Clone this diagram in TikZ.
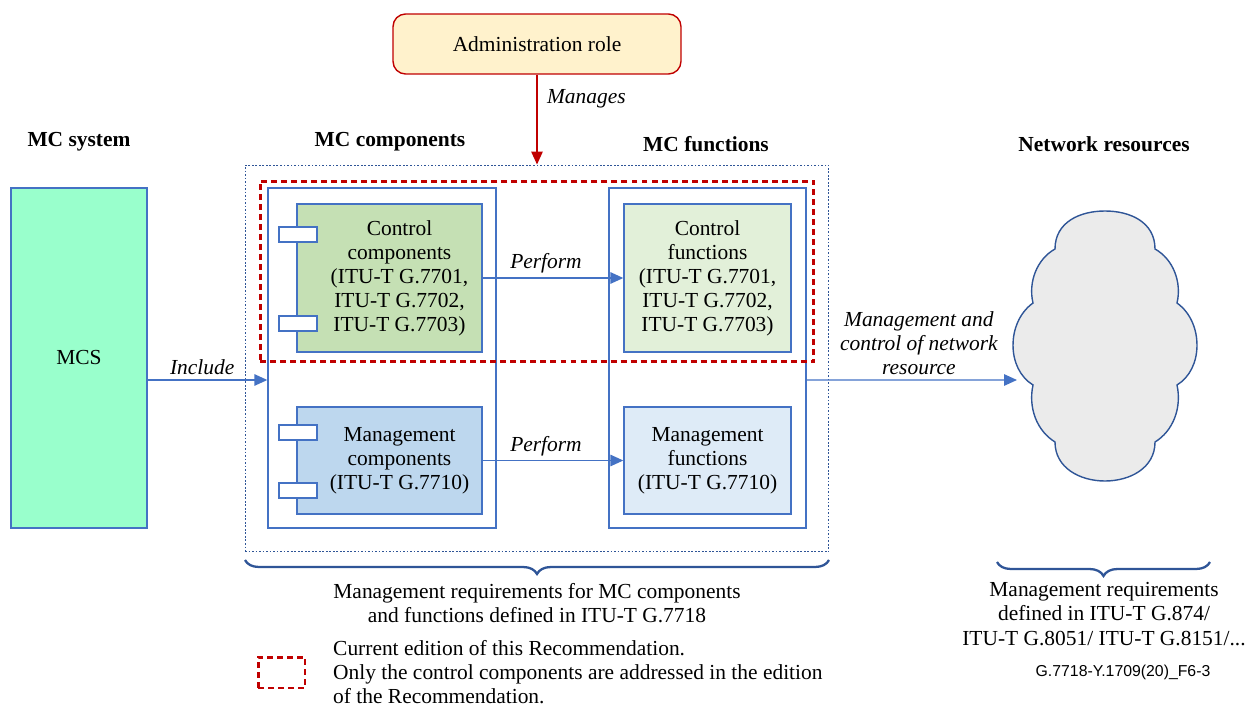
\documentclass[tikz,border=0pt]{standalone}
\usepackage{fontspec}
\setmainfont{Liberation Serif}
\newfontfamily\tagfont{Liberation Sans}
\usepackage{tikz}
\usetikzlibrary{arrows.meta, positioning, calc, decorations.pathreplacing}
\definecolor{lineblue}{HTML}{4472C4}
\definecolor{darkblue}{HTML}{2F5597}
\definecolor{redline}{HTML}{C00000}
\definecolor{adminfill}{HTML}{FFF2CC}
\definecolor{mcsfill}{HTML}{99FFCC}
\definecolor{ctrlcompfill}{HTML}{C5E0B4}
\definecolor{ctrlfuncfill}{HTML}{E2F0D9}
\definecolor{mgmtcompfill}{HTML}{BDD7EE}
\definecolor{mgmtfuncfill}{HTML}{DEEBF7}
\definecolor{cloudfill}{HTML}{EBEBEB}
\newcommand{\figsize}{\fontsize{12.2}{13.7}\selectfont}
\newcommand{\pad}{\hspace*{0.4cm}}
\tikzset{
	block/.style={rectangle, draw=lineblue, line width=0.8pt, align=center, font=\figsize},
	port/.style={rectangle, draw=lineblue, fill=white, line width=0.8pt, minimum width=0.76cm, minimum height=0.3cm, inner sep=0pt},
	edition/.style={rectangle, draw=redline, line width=1.7pt, dash pattern=on 3.4pt off 2.3pt},
	title/.style={font=\figsize\bfseries},
	note/.style={font=\figsize, align=center},
	label/.style={font=\figsize\itshape, align=center},
	flow/.style={draw=lineblue, line width=0.8pt, -{Triangle[length=2.6mm, width=2.3mm]}},
	brace/.style={draw=darkblue, line width=1.3pt, decorate, decoration={brace, amplitude=0.28cm}}
}

\begin{document}
\begin{tikzpicture}[x=0.02cm, y=-0.02cm]
		\useasboundingbox (0,0) rectangle (1247,706);
		
		% Administration role on top
		\node[block, draw=redline, fill=adminfill, rounded corners=2.5mm, minimum width=5.76cm, minimum height=1.2cm] (admin) at (537,44) {Administration role};
		
		% Column titles
		\node[title] (mcstitle) at (79,142) {MC system};
		\node[title] (comptitle) at (390,142) {MC components};
		\node[title] (functitle) at (706,144) {MC functions};
		\node[title] (nettitle) at (1104,144) {Network resources};
		
		% MC system
		\node[block, fill=mcsfill, minimum width=2.72cm, minimum height=6.8cm] (mcs) at (79,358) {MCS};
		
		% Outer dotted box around components and functions
		\node[rectangle, draw=darkblue, line width=0.6pt, dash pattern=on 1pt off 1pt, minimum width=11.68cm, minimum height=7.74cm] (mcbox) at (537,358.5) {};
		
		% Containers for components and functions
		\node[block, minimum width=4.56cm, minimum height=6.8cm] (compbox) at (382,358) {};
		\node[block, minimum width=3.94cm, minimum height=6.8cm] (funcbox) at (707.5,358) {};
		
		% Components
		\node[block, fill=ctrlcompfill, minimum width=3.7cm, minimum height=2.96cm] (ctrlcomp) at (389.5,278) {\pad Control\\\pad components\\\pad (ITU-T G.7701,\\\pad ITU-T G.7702,\\\pad ITU-T G.7703)};
		\node[port] (ctrlport1) at (298,234.5) {};
		\node[port] (ctrlport2) at (298,323.5) {};
		\node[block, fill=mgmtcompfill, minimum width=3.7cm, minimum height=2.14cm] (mgmtcomp) at (389.5,460.5) {\pad Management\\\pad components\\\pad (ITU-T G.7710)};
		\node[port] (mgmtport1) at (298,432.5) {};
		\node[port] (mgmtport2) at (298,490.5) {};
		
		% Functions
		\node[block, fill=ctrlfuncfill, minimum width=3.34cm, minimum height=2.96cm] (ctrlfunc) at (707.5,278) {Control\\functions\\(ITU-T G.7701,\\ITU-T G.7702,\\ITU-T G.7703)};
		\node[block, fill=mgmtfuncfill, minimum width=3.34cm, minimum height=2.14cm] (mgmtfunc) at (707.5,460.5) {Management\\functions\\(ITU-T G.7710)};
		
		% Current edition of the Recommendation
		\node[edition, minimum width=11.08cm, minimum height=3.62cm] (current) at (537,271.5) {};
		
		% Network resources cloud
		\draw[darkblue, line width=0.8pt, fill=cloudfill]
			(1055,249) .. controls (1055,222) and (1080,211) .. (1105,211)
			.. controls (1130,211) and (1155,222) .. (1155,249)
			.. controls (1173,259) and (1182,282) .. (1177,303)
			.. controls (1191,313) and (1197,330) .. (1197,345)
			.. controls (1197,362) and (1190,377) .. (1177,385)
			.. controls (1182,408) and (1173,431) .. (1155,442)
			.. controls (1155,468) and (1130,481) .. (1105,481)
			.. controls (1080,481) and (1055,468) .. (1055,442)
			.. controls (1037,431) and (1028,408) .. (1033,385)
			.. controls (1020,377) and (1013,362) .. (1013,345)
			.. controls (1013,330) and (1019,313) .. (1033,303)
			.. controls (1028,282) and (1037,259) .. (1055,249) -- cycle;
		\coordinate (cloudin) at (1017,380);
		
		% Arrows
		\draw[draw=redline, line width=0.8pt, -{Triangle[length=2.6mm, width=2.3mm]}] (admin) -- node[label, pos=0.27, right=2pt] {Manages} (mcbox.north);
		\draw[flow] ([yshift=-0.44cm]mcs.east) -- node[label, above=-1pt, xshift=-3pt] {Include} ([yshift=-0.44cm]compbox.west);
		\draw[flow] (ctrlcomp) -- node[label, above=-1pt, xshift=-4pt] {Perform} (ctrlfunc);
		\draw[flow] (mgmtcomp) -- node[label, above=-1pt, xshift=-4pt] {Perform} (mgmtfunc);
		\draw[flow] ([yshift=-0.44cm]funcbox.east) -- node[label, above=-1pt, xshift=4pt] {Management and\\control of network\\resource} (cloudin);
		
		% Braces and requirements
		\coordinate (bl) at (245,560);
		\coordinate (br) at (829,560);
		\draw[brace] (br) -- (bl);
		\node[note] (mcreq) at (537,603) {Management requirements for MC components\\and functions defined in ITU-T G.7718};
		\coordinate (nl) at (997,562);
		\coordinate (nr) at (1210,562);
		\draw[brace] (nr) -- (nl);
		\node[note] (netreq) at (1104,614) {Management requirements\\defined in ITU-T G.874/\\ITU-T G.8051/ ITU-T G.8151/...};
		
		% Legend
		\node[edition, minimum width=0.94cm, minimum height=0.62cm] (legbox) at (281.5,672.5) {};
		\node[note, align=left, anchor=west] (legtext) at (327,672) {Current edition of this Recommendation.\\Only the control components are addressed in the edition\\of the Recommendation.};
		
		% Figure tag
		\node[font=\tagfont\fontsize{9}{10}\selectfont] (tag) at (1123,672) {G.7718-Y.1709(20)\_F6-3};
		
	\end{tikzpicture}
\end{document}
